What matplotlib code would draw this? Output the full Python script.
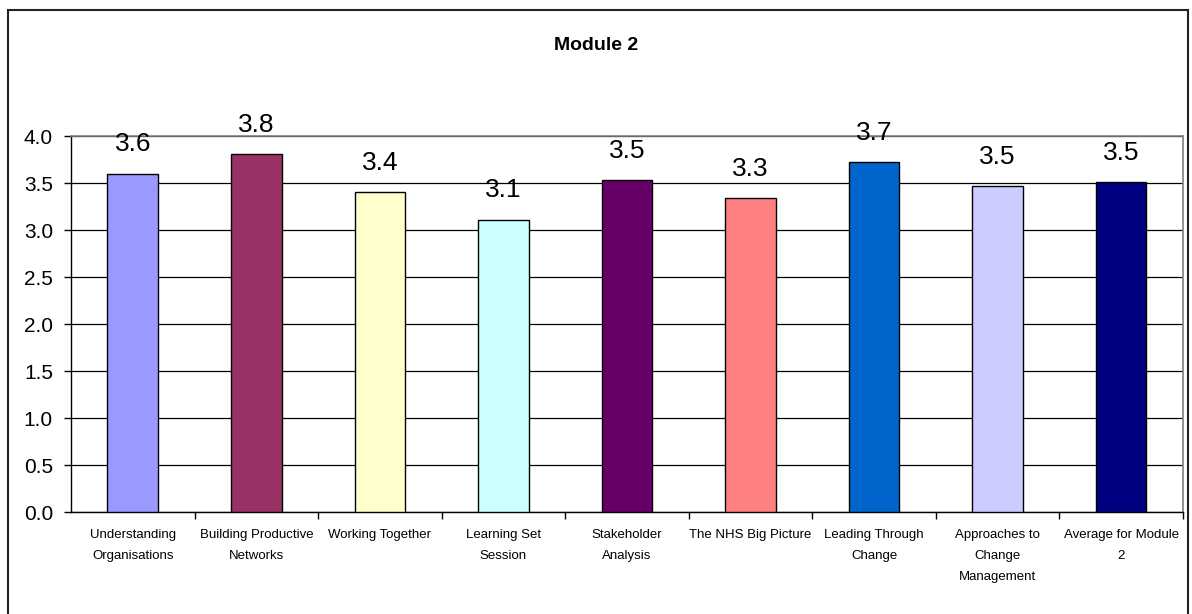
import matplotlib.pyplot as plt
from matplotlib import font_manager
from matplotlib.patches import Rectangle

# course sessions and their average scores
categories = ['Understanding\nOrganisations', 'Building Productive\nNetworks',
              'Working Together', 'Learning Set\nSession', 'Stakeholder\nAnalysis',
              'The NHS Big Picture', 'Leading Through\nChange',
              'Approaches to\nChange\nManagement', 'Average for Module\n2']
scores = [3.6, 3.81, 3.4, 3.11, 3.53, 3.34, 3.72, 3.465, 3.51]
score_labels = ['3.6', '3.8', '3.4', '3.1', '3.5', '3.3', '3.7', '3.5', '3.5']
colors = ['#9999FF', '#993366', '#FFFFCC', '#CCFFFF', '#660066',
          '#FF8080', '#0066CC', '#CCCCFF', '#000080']

# use a narrow font if there is one, like the original
names = {f.name for f in font_manager.fontManager.ttflist}
if 'Liberation Sans Narrow' in names:
    plt.rcParams['font.family'] = 'Liberation Sans Narrow'
else:
    plt.rcParams['font.family'] = 'Liberation Sans'

fig = plt.figure(figsize=(11.92, 6.14), dpi=100)
ax = fig.add_axes([0.0596, 0.1661, 0.9328, 0.6124])

x = list(range(len(scores)))
ax.bar(x, scores, width=0.41, color=colors, edgecolor='black', linewidth=1, zorder=3)

for i in x:
    ax.annotate(score_labels[i], (i, scores[i]), xytext=(0, 21), textcoords='offset points',
                ha='center', va='center', fontsize=19, zorder=4)

ax.set_xlim(-0.5, len(scores) - 0.5)
ax.set_ylim(0, 4)
ax.set_yticks([0.5 * k for k in range(9)])
ax.set_yticklabels(['%.1f' % (0.5 * k) for k in range(9)], fontsize=15)
ax.yaxis.grid(True, color='black', linewidth=0.9, zorder=0)

ax.set_xticks(x)
ax.set_xticklabels(categories, fontsize=9.5, linespacing=2.0)
ax.set_xticks([k + 0.5 for k in range(len(scores))], minor=True)
ax.tick_params(axis='x', which='major', length=0, pad=12)
ax.tick_params(axis='x', which='minor', length=5, width=1, direction='out')
ax.tick_params(axis='y', length=5, width=1, direction='out', pad=8)

for side in ['top', 'right']:
    ax.spines[side].set_color('#808080')
    ax.spines[side].set_linewidth(1.2)
for side in ['left', 'bottom']:
    ax.spines[side].set_color('black')
    ax.spines[side].set_linewidth(1)

fig.text(0.5, 1 - 45 / 614, 'Module 2', ha='center', va='center', fontsize=14, fontweight='bold')

# outer chart border
fig.patches.append(Rectangle((0.0067, -0.02), 0.9899, 1.0045, transform=fig.transFigure,
                             fill=False, edgecolor='#222222', linewidth=1.5))

fig.savefig('out.png', dpi=100)
